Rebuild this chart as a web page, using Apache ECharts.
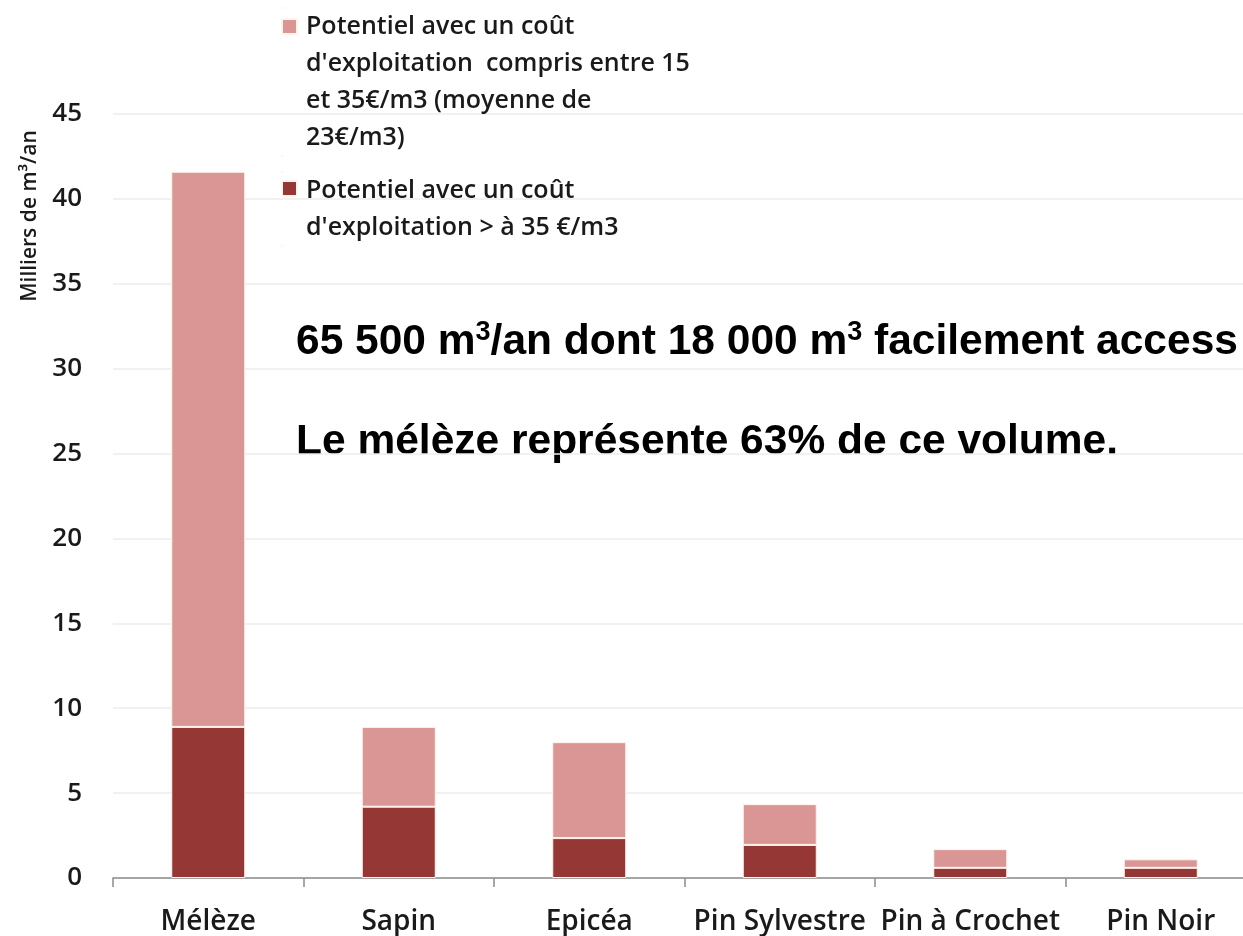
<!DOCTYPE html>
<html>
<head>
<meta charset="utf-8">
<title>Potentiel par essence</title>
<script src="https://cdn.jsdelivr.net/npm/echarts@6/dist/echarts.min.js"></script>
<style>
  html, body { margin: 0; padding: 0; background: #fff; overflow: hidden; }
  /* le graphique d'origine est coupé à droite : le conteneur dépasse un peu la fenêtre */
  #chart { width: 1256px; height: 936px; }
</style>
</head>
<body>
<div id="chart"></div>
<script>
// essences
const categories = ['Mélèze', 'Sapin', 'Epicéa', 'Pin Sylvestre', 'Pin à Crochet', 'Pin Noir']
// milliers de m3/an, coût > 35 €/m3 (bas de pile)
const costAbove35 = [8.9, 4.2, 2.35, 1.95, 0.6, 0.6]
// milliers de m3/an, coût entre 15 et 35 €/m3 (haut de pile)
const cost15to35 = [32.7, 4.7, 5.65, 2.4, 1.1, 0.5]
// axe y
const yMin = 0
const yMax = 45
const yStep = 5

const nameMid = 'Potentiel avec un coût d\'exploitation compris entre 15 et 35€/m3 (moyenne de 23€/m3)'
const nameHigh = 'Potentiel avec un coût d\'exploitation > à 35 €/m3'

const legendFont = {fontFamily: 'Open Sans', fontSize: 25, fontWeight: 600, color: '#1a1a1a', lineHeight: 37, padding: [0, 0, 0, 4]}

// texte d'annotation, 3 en exposant
const bigText = {fontFamily: 'Liberation Sans', fontSize: 42.5, fontWeight: 'bold', color: '#000', lineHeight: 46}
const supText = {fontFamily: 'Liberation Sans', fontSize: 27, fontWeight: 'bold', color: '#000', verticalAlign: 'top', lineHeight: 46}

const chart = echarts.init(document.getElementById('chart'))

const option = {
  animation: false,
  grid: {left: 113, top: 114, bottom: 57, right: 0},
  legend: [
    {
      data: [nameMid],
      left: 281,
      top: 7,
      padding: 0,
      itemWidth: 15,
      itemHeight: 148,
      // carré en haut de l'entrée, aligné sur la première ligne
      icon: 'path://M0,0h0.01v0.01h-0.01z M0,11h15v15h-15z M0,148h0.01v0.01h-0.01z',
      formatter: () => '{a|Potentiel avec un coût}\n{a|d\'exploitation  compris entre 15}\n{a|et 35€/m3 (moyenne de}\n{a|23€/m3)}',
      textStyle: {rich: {a: legendFont}}
    },
    {
      data: [nameHigh],
      left: 281,
      top: 171,
      padding: 0,
      itemWidth: 15,
      itemHeight: 74,
      icon: 'path://M0,0h0.01v0.01h-0.01z M0,9h15v15h-15z M0,74h0.01v0.01h-0.01z',
      formatter: () => '{a|Potentiel avec un coût}\n{a|d\'exploitation > à 35 €/m3}',
      textStyle: {rich: {a: legendFont}}
    }
  ],
  xAxis: {
    type: 'category',
    data: categories,
    axisLine: {lineStyle: {color: '#8c8c8c', width: 1.5}},
    axisTick: {show: true, length: 9, lineStyle: {color: '#8c8c8c', width: 1.5}},
    axisLabel: {
      interval: 0,
      margin: 30,
      fontFamily: 'Open Sans',
      fontSize: 28,
      fontWeight: 600,
      color: '#1a1a1a'
    }
  },
  yAxis: {
    type: 'value',
    min: yMin,
    max: yMax,
    interval: yStep,
    axisLine: {show: false},
    axisTick: {show: false},
    splitLine: {lineStyle: {color: '#ececec', width: 1.5}},
    axisLabel: {
      margin: 31,
      fontFamily: 'Open Sans',
      fontSize: 26,
      fontWeight: 600,
      color: '#1a1a1a'
    }
  },
  series: [
    {
      name: nameHigh,
      type: 'bar',
      stack: 'total',
      barWidth: 74,
      data: costAbove35,
      itemStyle: {color: '#953735', borderColor: '#fff4ee', borderWidth: 1}
    },
    {
      name: nameMid,
      type: 'bar',
      stack: 'total',
      barWidth: 74,
      data: cost15to35,
      itemStyle: {color: '#d99694', borderColor: '#fff4ee', borderWidth: 1}
    }
  ],
  graphic: [
    {
      type: 'text',
      x: 30,
      y: 216,
      rotation: Math.PI / 2,
      style: {
        text: 'Milliers de m³/an',
        align: 'center',
        verticalAlign: 'middle',
        font: '600 21px "Open Sans"',
        fill: '#1a1a1a'
      }
    },
    {
      type: 'text',
      x: 296,
      y: 342,
      style: {
        text: '{t|65 500 m}{s|3}{t|/an dont 18 000 m}{s|3}{t| facilement access}',
        verticalAlign: 'middle',
        rich: {t: bigText, s: supText}
      }
    },
    {
      type: 'text',
      x: 296,
      y: 442,
      style: {
        text: '{t|Le mélèze représente 63% de ce volume.}',
        verticalAlign: 'middle',
        rich: {t: bigText}
      }
    }
  ]
}

chart.setOption(option)
</script>
</body>
</html>
